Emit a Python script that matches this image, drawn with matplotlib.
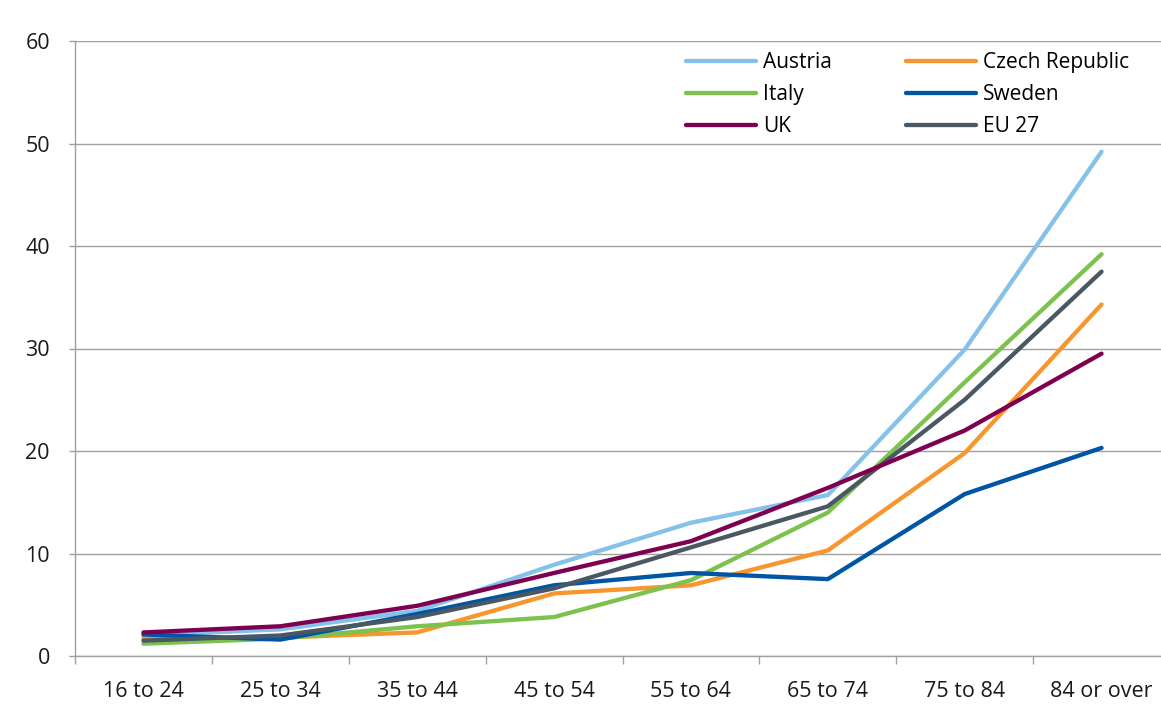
import matplotlib
matplotlib.use("Agg")
import matplotlib.pyplot as plt

categories = ["16 to 24", "25 to 34", "35 to 44", "45 to 54", "55 to 64", "65 to 74", "75 to 84", "84 or over"]
austria = [2.0, 2.6, 4.4, 8.9, 13.0, 15.7, 29.9, 49.2]
czech = [1.7, 1.8, 2.3, 6.1, 6.9, 10.3, 19.8, 34.3]
italy = [1.2, 1.7, 2.9, 3.8, 7.4, 14.0, 26.7, 39.2]
sweden = [2.1, 1.6, 4.1, 6.9, 8.1, 7.5, 15.8, 20.3]
uk = [2.3, 2.9, 4.9, 8.1, 11.2, 16.4, 22.0, 29.5]
eu27 = [1.5, 2.0, 3.8, 6.6, 10.6, 14.6, 25.0, 37.5]
yticks = [0, 10, 20, 30, 40, 50, 60]

series = [
    ("Austria", austria, "#85C1E9"),
    ("Czech Republic", czech, "#F7962F"),
    ("Italy", italy, "#7DC24E"),
    ("Sweden", sweden, "#0055A4"),
    ("UK", uk, "#7F0050"),
    ("EU 27", eu27, "#4A5863"),
]

plt.rcParams['font.family'] = ['Open Sans', 'DejaVu Sans']

W, H = 1161, 705
fig = plt.figure(figsize=(W / 100, H / 100), dpi=100)
ax = fig.add_axes([75 / W, 49 / H, 1095 / W, 615 / H])

x = list(range(len(categories)))
order = ["Austria", "Czech Republic", "Italy", "Sweden", "EU 27", "UK"]
lines = {}
for name, vals, col in series:
    ln, = ax.plot(x, vals, color=col, lw=3.1, label=name, solid_capstyle='round',
                  zorder=3 + order.index(name))
    lines[name] = ln

ax.set_xlim(-0.5, len(categories) - 0.5)
ax.set_ylim(0, 60)
ax.set_yticks(yticks)
ax.set_yticklabels([str(v) for v in yticks])
ax.set_xticks([i + 0.5 for i in range(-1, len(categories))], minor=False)
ax.set_xticklabels([])
ax.set_xticks(x, minor=True)
ax.set_xticklabels(categories, minor=True)
ax.tick_params(axis='x', which='major', length=6, width=1, color='#A0A0A0', direction='out')
ax.tick_params(axis='x', which='minor', length=0, pad=18, labelsize=15.5, labelcolor='#1a1a1a')
ax.tick_params(axis='y', length=4, width=1, color='#A0A0A0', pad=14, labelsize=15.5, labelcolor='#1a1a1a')

ax.grid(axis='y', color='#A0A0A0', lw=1)
ax.set_axisbelow(True)
for s in ['top', 'right']:
    ax.spines[s].set_visible(False)
for s in ['left', 'bottom']:
    ax.spines[s].set_color('#A0A0A0')
    ax.spines[s].set_linewidth(1)

# legend filled row-wise like the reference: column-major order for matplotlib
leg_order = ["Austria", "Italy", "UK", "Czech Republic", "Sweden", "EU 27"]
handles = [lines[n] for n in leg_order]
leg = ax.legend(handles, leg_order, ncol=2, frameon=False, loc='upper left',
                bbox_to_anchor=(686 / W, 1 - 52 / H), bbox_transform=fig.transFigure,
                borderpad=0, borderaxespad=0, fontsize=15, handlelength=3.35,
                handletextpad=0.35, labelspacing=0.53, columnspacing=3.55)

fig.savefig("out.png", dpi=100)
